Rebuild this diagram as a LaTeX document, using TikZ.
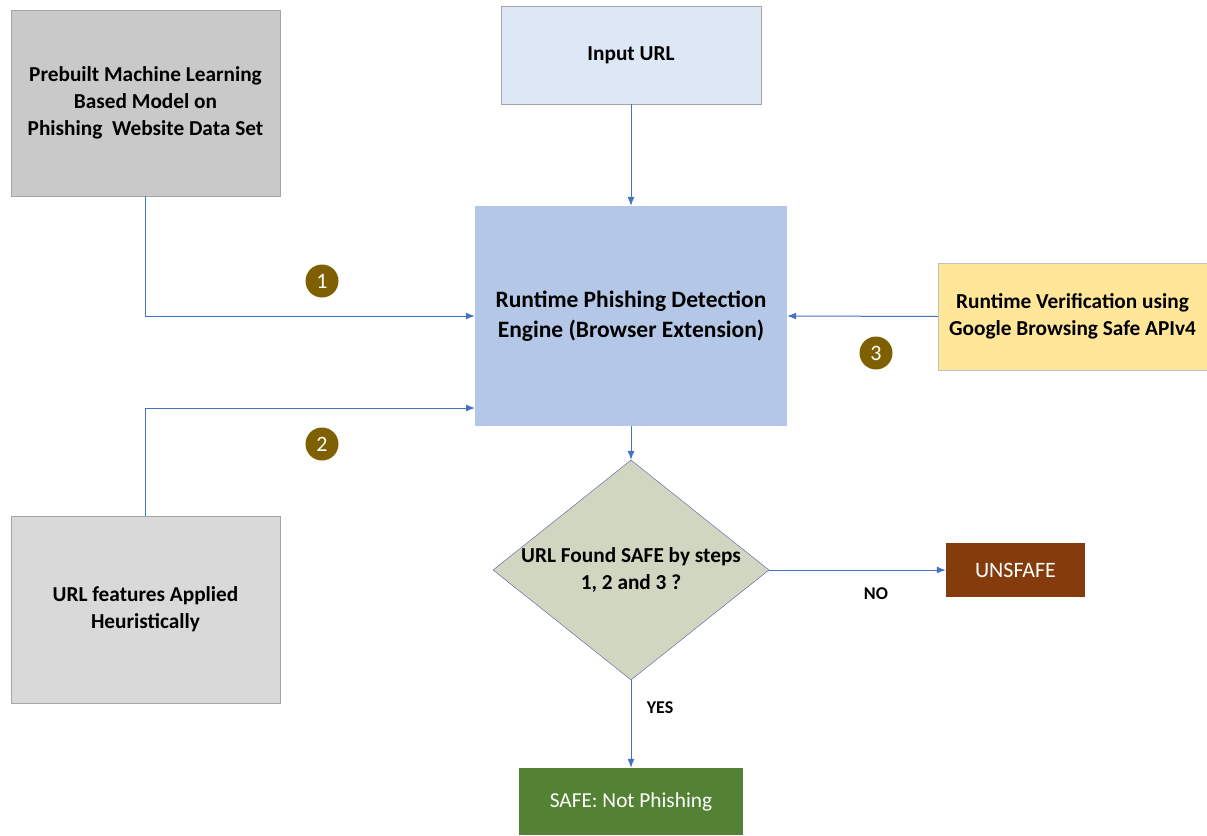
\documentclass[tikz,border=0pt]{standalone}
\usepackage{fontspec}
\setmainfont{Carlito}
\usetikzlibrary{shapes.geometric,arrows.meta}

\definecolor{modelgray}{HTML}{C9C9C9}
\definecolor{heurgray}{HTML}{D9D9D9}
\definecolor{inputblue}{HTML}{DEE7F5}
\definecolor{engineblue}{HTML}{B4C7E7}
\definecolor{verifyellow}{HTML}{FFE699}
\definecolor{checkgreen}{HTML}{D1D6C0}
\definecolor{unsafebrown}{HTML}{843C0C}
\definecolor{safegreen}{HTML}{548235}
\definecolor{stepolive}{HTML}{7F6000}
\definecolor{linkblue}{HTML}{4472C4}
\definecolor{edgegray}{HTML}{A5A5A5}

\begin{document}
\begin{tikzpicture}[x=1pt,y=-1pt,>={Latex[length=9pt,width=7pt]},
        box/.style={shape=rectangle,align=center,inner sep=0pt,font=\fontsize{21.3}{27}\selectfont\bfseries},
        stepmark/.style={shape=circle,fill=stepolive,text=white,minimum size=33pt,inner sep=0pt,font=\fontsize{22}{26}\selectfont},
        answer/.style={text=black,font=\fontsize{18}{21}\selectfont\bfseries},
        link/.style={->,line width=1pt,draw=linkblue}]
        \useasboundingbox[fill=white] (0,0) rectangle (1207,835);
        \node[box,fill=modelgray,draw=edgegray,minimum width=269pt,minimum height=186pt] (model) at (145.5,103) {Prebuilt Machine Learning\\Based Model on\\Phishing~ Website Data Set};
        \node[box,fill=heurgray,draw=edgegray,minimum width=269pt,minimum height=187pt] (heur) at (145.5,609.5) {URL features Applied\\Heuristically};
        \node[box,fill=inputblue,draw=edgegray,minimum width=260pt,minimum height=98pt] (input) at (631,55) {Input URL};
        \node[box,fill=engineblue,minimum width=312pt,minimum height=220pt,font=\fontsize{23.5}{30}\selectfont\bfseries] (engine) at (631,316) {Runtime Phishing Detection\\Engine (Browser Extension)};
        \node[box,fill=verifyellow,draw=edgegray!70,minimum width=269pt,minimum height=107pt] (verif) at (1072.5,316.5) {Runtime Verification using\\Google Browsing Safe APIv4};
        \node[shape=diamond,fill=checkgreen,draw=gray!70!blue,minimum width=276pt,minimum height=220pt,inner sep=0pt,
              label={[box]center:URL Found SAFE by steps\\1, 2 and 3 ?}] (check) at (631,570) {};
        \node[shape=rectangle,fill=unsafebrown,text=white,minimum width=139pt,minimum height=54pt,font=\fontsize{22}{26}\selectfont] (unsafe) at (1015.5,570) {UNSFAFE};
        \node[shape=rectangle,fill=safegreen,text=white,minimum width=224pt,minimum height=67pt,font=\fontsize{21.3}{26}\selectfont] (safe) at (631,801.5) {SAFE: Not Phishing};
        \node[stepmark] (one) at (322,281) {1};
        \node[stepmark] (two) at (322,444) {2};
        \node[stepmark] (three) at (876,353) {3};
        \node[answer] (no) at (876,594) {NO};
        \node[answer] (yes) at (660,708) {YES};
        \coordinate (lowin) at (475,408);
        \draw[link] (model.south) |- (engine.west);
        \draw[link] (heur.north) |- (lowin);
        \draw[link] (verif.west) -- (engine.east);
        \draw[link] (input.south) -- (engine.north);
        \draw[link] (engine.south) -- (check.north);
        \draw[link] (check.east) -- (unsafe.west);
        \draw[link] (check.south) -- (safe.north);
    \end{tikzpicture}
\end{document}
